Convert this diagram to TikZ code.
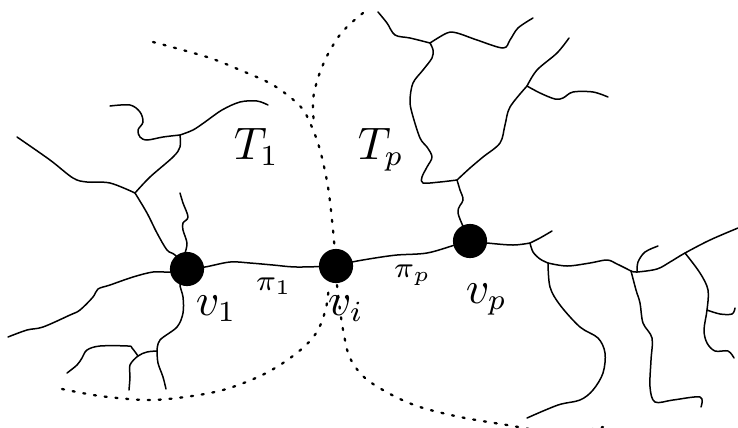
\documentclass[tikz,border=0pt]{standalone}
\begin{document}
\begin{tikzpicture}[x=0.24pt,y=-0.24pt,
  tree/.style={line width=0.36pt, line join=round, line cap=round},
  bound/.style={line width=0.55pt, dash pattern=on 0.5pt off 2.1pt, line cap=round},
  vert/.style={circle, fill=black, minimum size=8.2pt, inner sep=0pt},
  big/.style={inner sep=0pt, anchor=base west, font=\fontsize{10.6}{12}\selectfont},
  small/.style={inner sep=0pt, anchor=base west, font=\fontsize{7.4}{9}\selectfont},
  sm/.style={smooth, tension=0.55}]
\useasboundingbox (0,0) rectangle (738,427);

% vertices positions
\coordinate (c1) at (187,269);
\coordinate (ci) at (336,266);
\coordinate (cp) at (470,241);
% junctions
\coordinate (J1) at (135,193);
\coordinate (J2) at (180,135);
\coordinate (J3) at (157,351);
\coordinate (J4) at (138,356);
\coordinate (J5) at (457,180);
\coordinate (J6) at (430,43);
\coordinate (J7) at (527,86);
\coordinate (J8) at (530,243);
\coordinate (J9) at (548,263);
\coordinate (Ja) at (631,271);
\coordinate (Jb) at (637,272);
\coordinate (Jc) at (685,253);
\coordinate (Jd) at (707,310);

% dotted boundaries
\draw[bound] plot[sm] coordinates {(153,42) (207,57) (240,70) (273,85) (300,106) (311,125) (320,150) (328,187) (333,230) (ci)};
\draw[bound] plot[sm] coordinates {(363,13) (350,24) (339,36) (327,56) (318,78) (313,100) (314,125)};
\draw[bound] plot[sm] coordinates {(62,389) (100,396) (147,400) (185,397) (223,390) (258,377) (283,363) (305,346) (318,330) (326,308) (329,285)};
\draw[bound] plot[sm] coordinates {(337,285) (340,310) (344,335) (350,358) (365,378) (392,395) (420,407) (460,417) (507,425) (560,433) (603,427)};

% path
\draw[tree] plot[sm] coordinates {(c1) (205,267) (230,262) (250,263) (273,265) (297,267) (ci)};
\draw[tree] plot[sm] coordinates {(ci) (352,262) (375,258) (397,255) (427,253) (455,245) (cp)};

% left tree
\draw[tree] plot[sm] coordinates {(c1) (175,255) (167,250) (157,233) (147,213) (J1)};
\draw[tree] plot[sm] coordinates {(J1) (110,183) (87,182) (73,178) (50,160) (17,137)};
\draw[tree] plot[sm] coordinates {(J1) (150,177) (173,157) (180,147) (J2)};
\draw[tree] plot[sm] coordinates {(J2) (163,137) (147,140) (140,137) (138,130) (143,122) (140,112) (130,105) (110,106)};
\draw[tree] plot[sm] coordinates {(J2) (193,130) (205,122) (222,110) (240,102) (257,101) (268,105)};
\draw[tree] plot[sm] coordinates {(185,253) (187,243) (183,230) (183,223) (188,217) (183,203) (180,193)};
\draw[tree] plot[sm] coordinates {(c1) (170,272) (153,272) (133,277) (110,285) (98,289) (93,297) (80,310) (70,315) (43,327) (27,330) (8,337)};
\draw[tree] plot[sm] coordinates {(c1) (180,283) (183,297) (183,313) (177,327) (160,340) (J3)};
\draw[tree] plot[sm] coordinates {(J3) (158,363) (163,377) (166,389)};
\draw[tree] plot[sm] coordinates {(J3) (147,352) (J4) (130,365) (130,377) (129,390)};
\draw[tree] plot[sm] coordinates {(J4) (132,348) (128,346) (100,346) (87,350) (82,358) (77,365) (67,373)};

% upper right tree
\draw[tree] plot[sm] coordinates {(cp) (458,213) (463,200) (460,190) (J5)};
\draw[tree] plot[sm] coordinates {(J5) (440,182) (423,183) (422,177) (427,167) (432,157) (427,147) (420,138) (412,113) (410,100) (413,83) (423,70) (432,58) (433,50) (J6)};
\draw[tree] plot[sm] coordinates {(J6) (410,38) (395,35) (387,23) (378,12)};
\draw[tree] plot[sm] coordinates {(J6) (447,33) (457,33) (477,40) (503,48) (510,40) (518,28) (533,18)};
\draw[tree] plot[sm] coordinates {(J5) (470,168) (483,157) (500,143) (505,125) (510,107) (J7)};
\draw[tree] plot[sm] coordinates {(J7) (537,70) (557,53) (569,38)};
\draw[tree] plot[sm] coordinates {(J7) (540,93) (555,99) (563,98) (573,92) (593,92) (608,97)};

% lower right tree
\draw[tree] plot[sm] coordinates {(cp) (487,243) (513,245) (J8)};
\draw[tree] plot[sm] coordinates {(J8) (540,238) (552,231)};
\draw[tree] plot[sm] coordinates {(J8) (533,252) (540,259) (J9)};
\draw[tree] plot[sm] coordinates {(J9) (567,266) (590,263) (607,260) (617,264) (Ja)};
\draw[tree] plot[sm] coordinates {(Ja) (Jb) (657,269) (670,262) (Jc) (710,240) (738,228)};
\draw[tree] plot[sm] coordinates {(Jb) (638,262) (645,252) (658,246)};
\draw[tree] plot[sm] coordinates {(Ja) (636,290) (640,303) (643,323) (652,338) (651,360) (650,387) (655,402) (673,400) (700,397) (701,407)};
\draw[tree] plot[sm] coordinates {(J9) (550,287) (560,305) (580,327) (598,338) (605,353) (603,373) (593,390) (580,400) (558,405) (527,418)};
\draw[tree] plot[sm] coordinates {(Jc) (700,273) (708,290) (Jd) (704,330) (707,343) (715,351) (728,351) (734,358)};
\draw[tree] plot[sm] coordinates {(Jd) (720,314) (732,314) (735,308)};

% vertices
\node[vert] (v1) at (c1) {};
\node[vert] (vi) at (ci) {};
\node[vert] (vp) at (cp) {};

% labels
\node[big] (lT1) at (233,159) {$T_1$};
\node[big] (lTp) at (357,159) {$T_p$};
\node[big] (lv1) at (195,315) {$v_1$};
\node[big] (lvi) at (327,315) {$v_i$};
\node[big] (lvp) at (465,303) {$v_p$};
\node[small] (lp1) at (255,290) {$\pi_1$};
\node[small] (lpp) at (393,277) {$\pi_p$};
\end{tikzpicture}
\end{document}
